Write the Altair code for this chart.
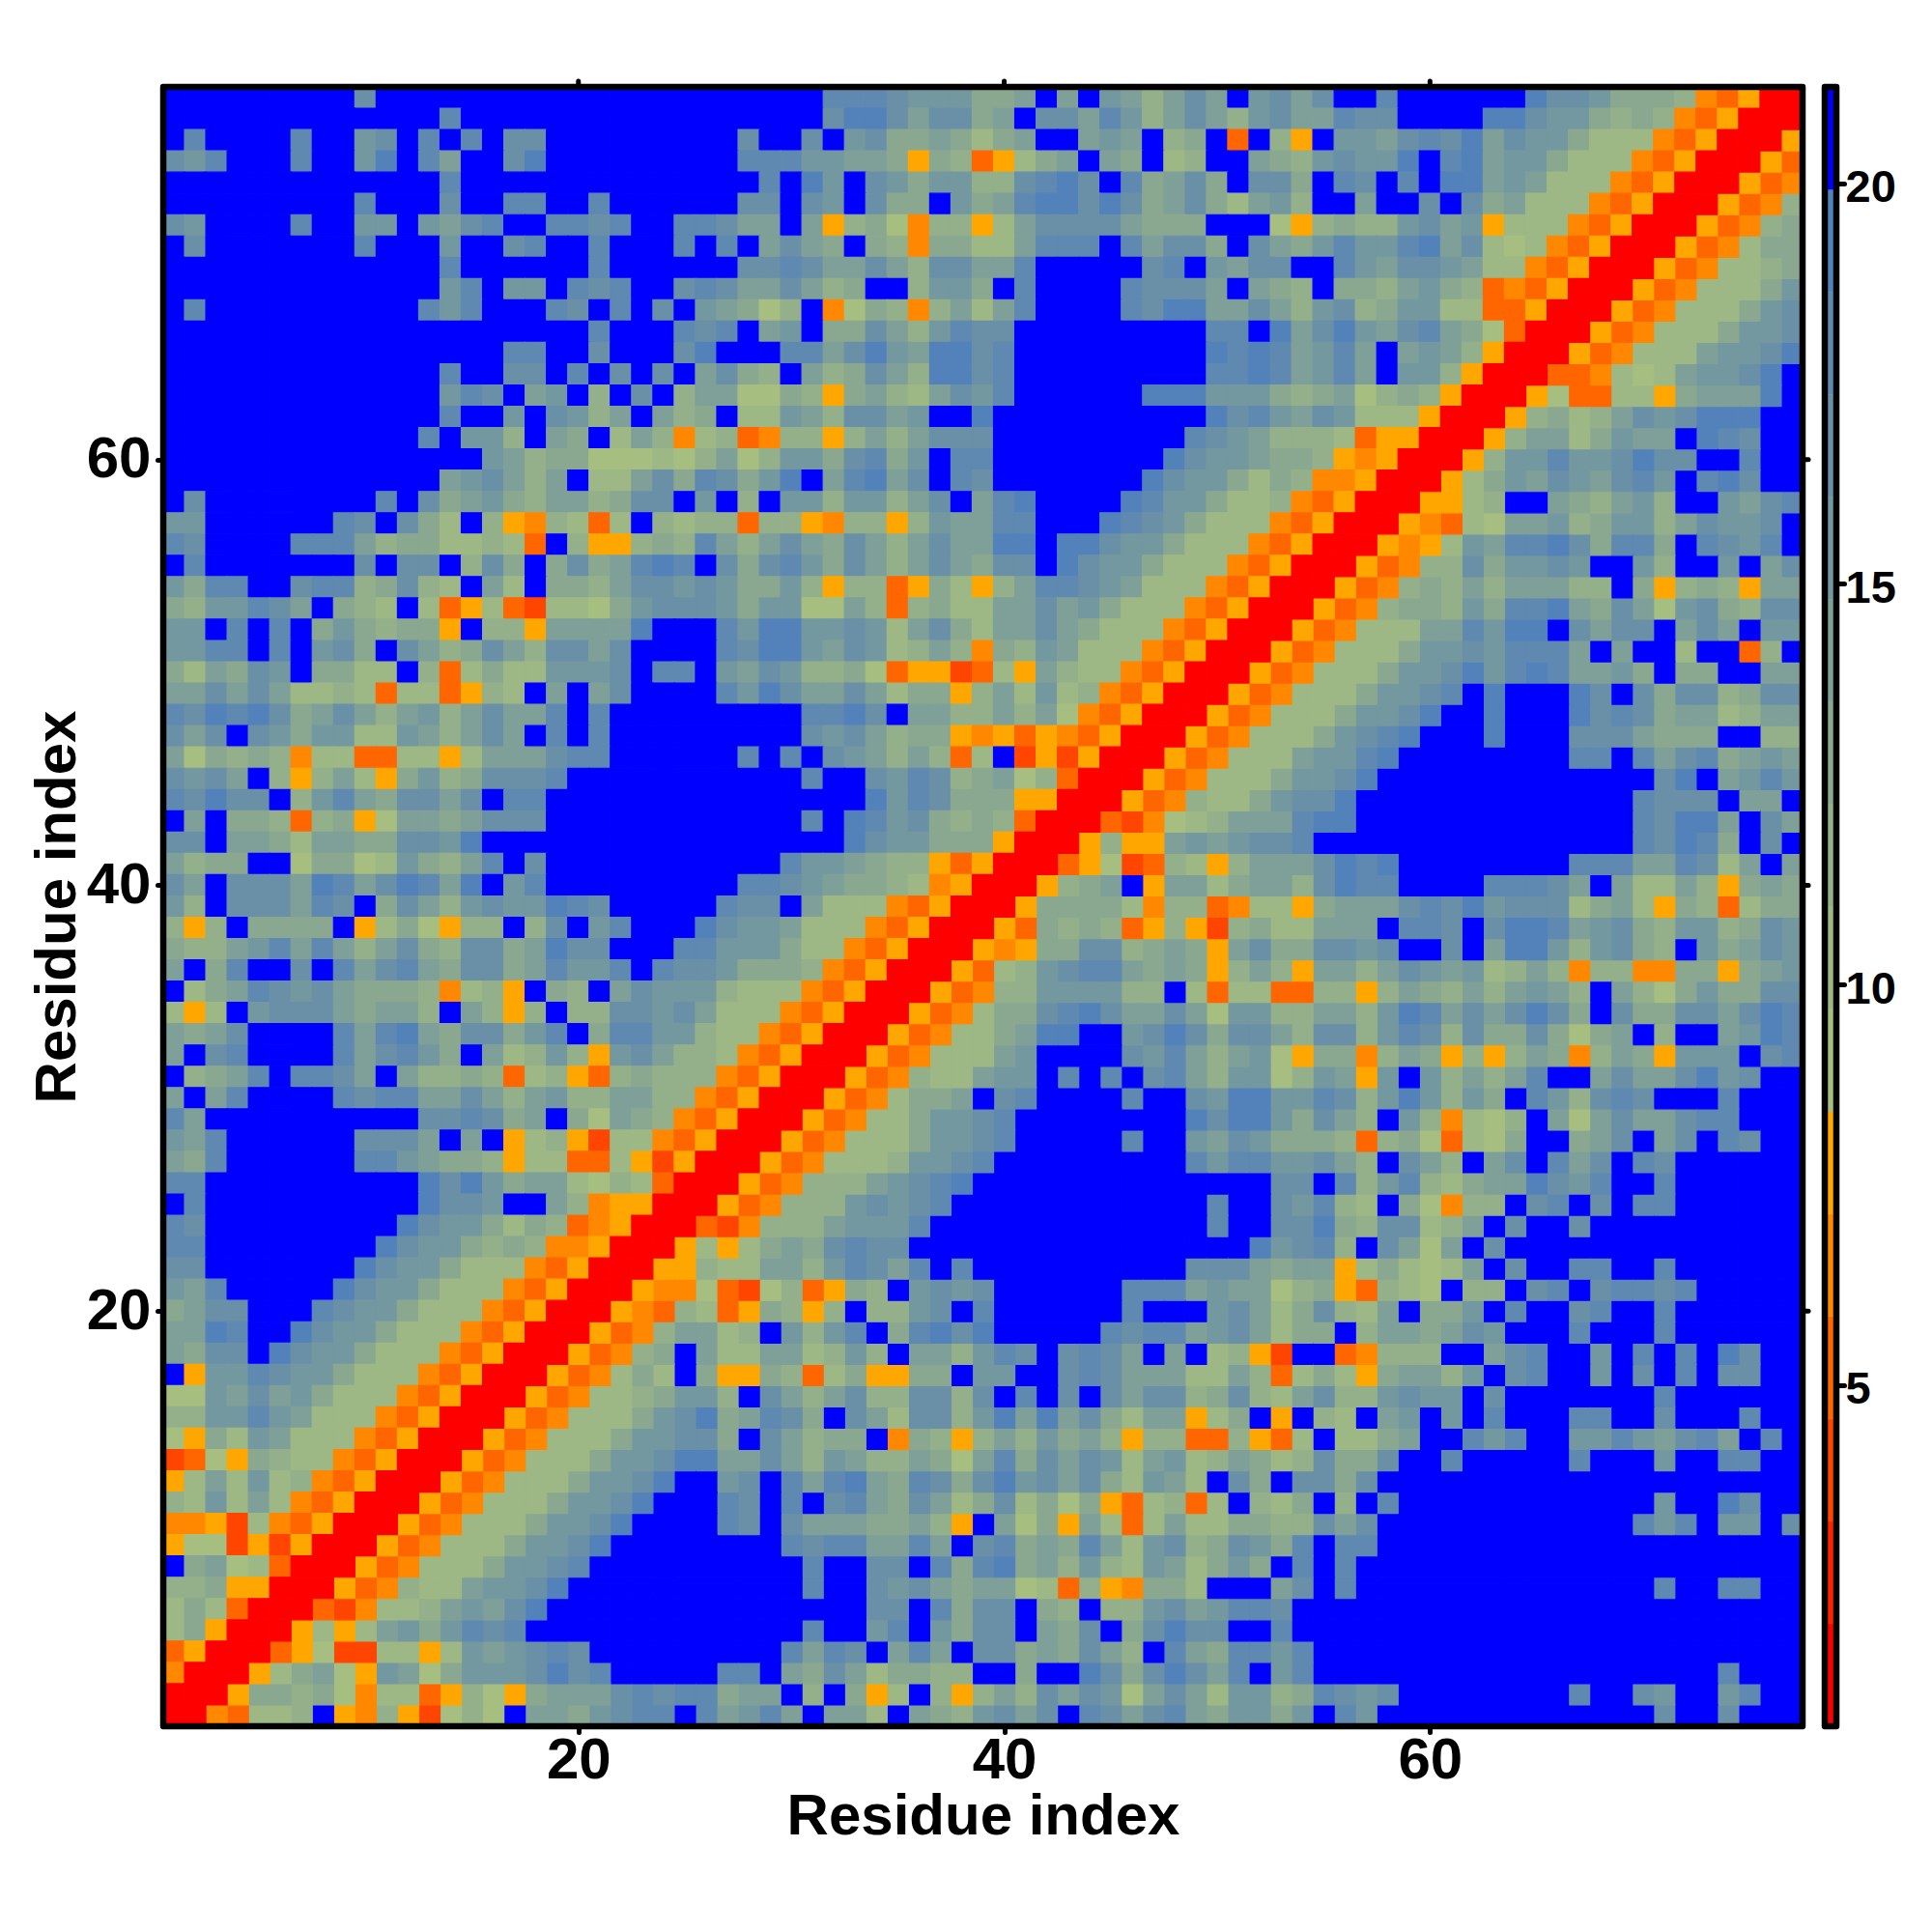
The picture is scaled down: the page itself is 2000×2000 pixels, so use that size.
import altair as alt
import pandas as pd

# Cell classes, lowest band first: one character per colour band of the colour bar
BAND_CHARS = "R12345abcdefghiB"
BAND_COLORS = ["#FF0000", "#FF2200", "#FF4500", "#FF6600", "#FF8800", "#FFA600",
               "#A6BE80", "#9DB885", "#94B08A", "#8AA890", "#7FA098", "#7498A0",
               "#6A90A8", "#5F89B0", "#5382BB", "#0000FF"]
BAND_LOW = 0.74
BAND_STEP = 1.279

# Residues 1-26, rows for residue 77 down to 52
A1 = ["BBBBBBBBBgBBBBBBBBBBBBBBBB","BBBBBBBBBBBBBhBBBBBBBBBBBB","BhBBBBhBBfgBhBhBggBBBBBBBB",
"gfhBBBhBBfiBheBBgiBBBBBBBB","BBBBBBBBBBBBBhBBBBBBBBBBBB","BBBBBBBBBhBBBgBBhhBBhBBBBB",
"gfBBBBhBBffBfeghBBhhghBBhh","BgBBBBBBBhBBBfBBghBBhBBBhB","BBBBBBBBBBBBBhBBBBBBhBBBBB",
"BBBBBBBBBBBBBfhBffBhghBBgh","BhBBBBBBBBBBhfhBBBhgBhBgBf","BBBBBBBBBBBBBBBBBBBBhBBBhg",
"BBBBBBBBBBBBBBBBhhBBgBBBgi","BBBBBBBBBBBBBhBBggBhBgBgBe","BBBBBBBBBBBBBfhgBefBcBgBce",
"BBBBBBBBBBBBBhBBfBgfceBecd","BBBBBBBBBBBBhBffcBedBbec4b","BBBBBBBBBBBBBBBfecddaaabac",
"BBBBBBBBBBBBBefgeceBbbegdh","BgBBBBBBBBhBgdefdceecdggBf","ffBBBBBBhgBgdbBc54cb3bBcbc",
"hgBBBBhhhecddbbcb3Bc55cdch","BhBBBBBBBgBggBcgdBdgdehihB","fdhhBBghhcdgcbBebBddceggfg",
"dcffhgeBdcbBb35b32bbadfggg","ffBhBhBdfdcdd5Bcc5eeeeiBBB"]
# Residues 27-52, rows for residue 77 down to 52
B1 = ["BBBBBhhhgfffddeBeBfecegeBf","BBBBBgiigeggdeBggehfcegecf","BgBBgBfgddedbdeBBefeBcdB3B",
"Bhhhffeed5dc35bdeBedBbcBBe","BBhBifBgfdffccghigBhdegdBg","BggBgfBgddBfdehiigigdegdbe",
"geeBe5cda4cc5beggggedddBBB","hBegedBdc4ddbbehhhBheggdBg","BgghgeegecggeehBBBBBghBfeg",
"geegecdBBcffdBhBBBBhgggeBe","edacB4adc4cebehBBBBhgiieeg","hBefBddgecfhggBBBBBBBBBhhB",
"BBBhhegifeiighBBBBBBBBBihi","gdcBecdgeciighBBBBBBBBBhhi","eaadc5decbegfhBBBBBBiiifff",
"BbbfecggefBBiBBBBBBBBBBigh","c34cc5cecegggBBBBBBBBBhgfe","eacffdghdfBhhBBBBBBBBigffe",
"gdfiBehiegBhgBBBBBBBigffdb","BcBffcffcegBehiBBBBihffdbb","c3cc54cc5cfeehhBBBihgfdbbb",
"ecegedgecegeeiiBiigffdbbb4","gdghfdgecegedggBigffdbbb43","fddfc5cc35db5cehhgfebbb435",
"fdffaaec3cdbbeegefdbbb435R","hfiiffgfbegdbeegedbbb435RR"]
# Residues 53-77, rows for residue 77 down to 53
C1 = ["gegBBhBBBBBBiggfdddc435RR","geehggBBBBiigffdcdc435RR","c5Bffeghgiegffdbbb435RR",
"dcfgffiBhieffdbbb435RR","gdBhgBhBiiefebbb435RR","fcBBeBBgBgdebbb435RR",
"a5cdccfgef5bbb435RR","edfhffhiegbab435RR","gBBhfeggfebb435RR","dcBddcefdc3435RR",
"ecfgcdffbb335RR","iegifegheda3RR","hefheBefec5RR","hefheBffc5RR","dcdeacdc5RR",
"fegfbbb5RR","cccb355RR","ddc545RR","dc445RR","c435RR","435RR","35RR","5RR","RR","R"]
# Residues 1-26, rows for residue 51 down to 26
A2 = ["ffhhBhBfgdBgecdgecggegBBBB","dbedgfBddbbBc3bdbbfffgBhhB","eegegebbcb3bb35cbBeBegBBBB",
"hgihigdegecefcegeehBhBBBBB","gegBgfdffbbfecegeBhBhBBBBB","eadcdc4bb33bb5beeeghhBBBBB",
"gfgeBc5ceb5dfcdggghBBBBBBB","hgiggBcfhedggegBhhBBBBBBBB","BeBddc3cd5aeedegggBBBBBBBB",
"ggBeedbeeddggfiBBBBBBBBBBB","ecddBBaddabfdcehBgBBBBBBBB","geBgggeihegiheiBfhBBBBBBBB",
"fcBgggehgBdgecfgffihgBBBBB","c5cBddddB5bda5ccBcgBfhBBBi","dccefhehecegdcggdeiggBBBhh",
"eBdhBBgBheghedggdehffhBhgg","Bbdehgfgedddc4bc5BdcBegfff","b5bBfgggedeecBec5cBccggfge",
"edegBBBBhehiedggdfhBdhhffc","eBghBBBBheghfdBebcfc5fgecc","BcdehBhhgeBeccdc3bc53cdccc",
"eBehBBBBhghheegecefcceecc4","heBBBBBBBBBBgghgdeBdaedc43","fehBBBBBBgggeBeB5bc52bb435",
"edhBBBBBBhhfeddc5bb33b525R","hhBBBBBBBBBBigifdeebacb3RR"]
# Residues 27-52, rows for residue 51 down to 26
B2 = ["hgiifegfbcec4dcfebbb435RRR","fegfccda35523b5ecbb435RRR5","hfigeegebdd5cebfbc435RRR53",
"BBBBhhigBeeccecea435RRR534","BBBBgfgecdd54535435RRR534c","BhBhBgfecec3bB2525RRR534cc",
"BBBBhBBgfhgcdeac3RRR534ccc","BBBBBBBifhgddd55RRR534ccce","BBBBhBihfgdcdc3RRR324bbbef",
"BBBBBBigffddd5RRR5b55dfdfi","BBBhffedcc535RRR35b23cb5ce","Bhhgfeddcb45RRR5bdeB5ffcdf",
"hggBebbb435RRR5ddddc4cc34c","gffebbb435RRR53ccdc35c52bd","fffdbb435RRR545cdffcded5dg",
"fdddc435RRR53bcffggeeed5cf","cbbb435RRR534bcfefeccBb3bb","bbb435RRR534cccggigefgecff",
"bb435RRR534bbceiiBBfgigcfg","b435RRR534bbbeeBBBBgfgecde","435RRR534bbbeffBiBiBggecee",
"35RRR534bddfBghBBBBhBBgfii","5RRR534bbeeeghBBBBBBBBhgii","RRR534bbbeffghBBBBBhBBgfge",
"RR534bbbcgggiBBBBBBBBBhgii","R534bbcefgiiBBBBBBBBBBBBBB"]
# Residues 1-25, rows for residue 25 down to 1 (up to the diagonal)
A3 = ["BhBBBBBBBBBBiggfBBec455RR","hgBBBBBBBBBigffdbdc345RR","hhBBBBBBBBigffdcdc445RR",
"ggBBBBBBBigffdbbb435RR","fehBBBBBigffdbbb435RR","deggBBBhgffdbbb435RR",
"eeihBBigffdbbb435RR","edggBigffdbbb435RR","B5ffhgffdbbb435RR","aafegefdbbb435RR",
"ccffhfebbb435RR","a5dbfebbb435RR","23a5dcbb435RR","5bebfbc435RR","cbfbeb435RR",
"4452b435RR","5aa2525RR","Bdeab3RR","ccd55RR","bdb3RR","bd5RR","35RR","4RR","RR","R"]

TICKS = [20, 40, 60]
BAR_TICKS = [5, 10, 15, 20]
N = 77
SIDE = 1697
FONT = "Liberation Sans"
BORDER = 6.5

rows = {}
for i in range(26):
    rows[77 - i] = A1[i] + B1[i] + (C1[i] if i < len(C1) else "")
for i in range(26):
    y = 51 - i
    rows[y] = (A2[i] + B2[i])[:y]
for i in range(25):
    rows[25 - i] = A3[i]
for y, s in rows.items():
    assert len(s) == y, (y, len(s), s)

records = []
for y, s in rows.items():
    for x0, ch in enumerate(s, start=1):
        v = BAND_LOW + BAND_STEP * (BAND_CHARS.index(ch) + 0.5)
        records.append((x0, y, v))
        if x0 != y:
            records.append((y, x0, v))
cells = pd.DataFrame(records, columns=["x", "y", "v"])
cells["x0"] = cells.x - 0.5
cells["x1"] = cells.x + 0.5
cells["y0"] = cells.y - 0.5
cells["y1"] = cells.y + 0.5

thresholds = [BAND_LOW + BAND_STEP * k for k in range(1, 16)]
color_scale = alt.Scale(type="threshold", domain=thresholds, range=BAND_COLORS)
pos = alt.Scale(domain=[0.5, N + 0.5], nice=False, zero=False)

axis_common = dict(domain=False, grid=False, values=TICKS, tickSize=6, tickWidth=5,
                   tickCap="round", tickColor="black", labelFont=FONT, labelFontWeight="bold",
                   labelFontSize=60, labelColor="black", titleFont=FONT, titleFontWeight="bold",
                   titleFontSize=60, titleColor="black", format="d")

heat = alt.Chart(cells).mark_rect(strokeWidth=1.2).encode(
    x=alt.X("x0:Q", scale=pos, title="Residue index",
            axis=alt.Axis(labelPadding=0, titlePadding=-1, **axis_common)),
    x2="x1:Q",
    y=alt.Y("y0:Q", scale=pos, title="Residue index",
            axis=alt.Axis(labelPadding=7, titlePadding=-1, **axis_common)),
    y2="y1:Q",
    fill=alt.Fill("v:Q", scale=color_scale, legend=None),
    stroke=alt.Stroke("v:Q", scale=color_scale, legend=None),
)

tick_df = pd.DataFrame({"t": TICKS})
top_ticks = alt.Chart(tick_df).mark_rule(color="black", strokeWidth=5, strokeCap="round").encode(
    x=alt.X("t:Q", scale=pos), y=alt.value(-6), y2=alt.value(0))
right_ticks = alt.Chart(tick_df).mark_rule(color="black", strokeWidth=5, strokeCap="round").encode(
    y=alt.Y("t:Q", scale=pos), x=alt.value(SIDE), x2=alt.value(SIDE + 6))
one = pd.DataFrame({"a": [0]})
frame = alt.Chart(one).mark_rect(fill=None, stroke="black", strokeWidth=BORDER, strokeJoin="round").encode(
    x=alt.value(0), x2=alt.value(SIDE), y=alt.value(0), y2=alt.value(SIDE))

main = alt.layer(heat, top_ticks, right_ticks, frame).properties(width=SIDE, height=SIDE)

bands = pd.DataFrame({
    "lo": [BAND_LOW + BAND_STEP * k for k in range(16)],
    "hi": [BAND_LOW + BAND_STEP * (k + 1) for k in range(16)],
    "v": [BAND_LOW + BAND_STEP * (k + 0.5) for k in range(16)],
})
bar_scale = alt.Scale(domain=[BAND_LOW, BAND_LOW + BAND_STEP * 16], nice=False, zero=False)
BAR_W = 12
bar = alt.Chart(bands).mark_rect(strokeWidth=0.5).encode(
    y=alt.Y("lo:Q", scale=bar_scale, title=None,
            axis=alt.Axis(orient="right", domain=False, grid=False, values=BAR_TICKS, tickSize=8,
                          tickWidth=5, tickCap="round", tickColor="black", labelFont=FONT,
                          labelFontWeight="bold", labelFontSize=47, labelColor="black",
                          labelPadding=1, labelOffset=5, format="d")),
    y2="hi:Q",
    x=alt.value(0), x2=alt.value(BAR_W),
    fill=alt.Fill("v:Q", scale=color_scale, legend=None),
    stroke=alt.Stroke("v:Q", scale=color_scale, legend=None),
)
bar_frame = alt.Chart(one).mark_rect(fill=None, stroke="black", strokeWidth=BORDER, strokeJoin="round").encode(
    x=alt.value(0), x2=alt.value(BAR_W), y=alt.value(0), y2=alt.value(SIDE))
colorbar = alt.layer(bar, bar_frame).properties(width=BAR_W, height=SIDE)

chart = alt.hconcat(main, colorbar, spacing=23, bounds="flush").resolve_scale(
    fill="independent", stroke="independent"
).configure_view(stroke=None).properties(
    padding={"left": 21, "top": 73, "right": 10, "bottom": 10}, background="white")

chart.save("out.html", embed_options={"renderer": "svg", "actions": False})
